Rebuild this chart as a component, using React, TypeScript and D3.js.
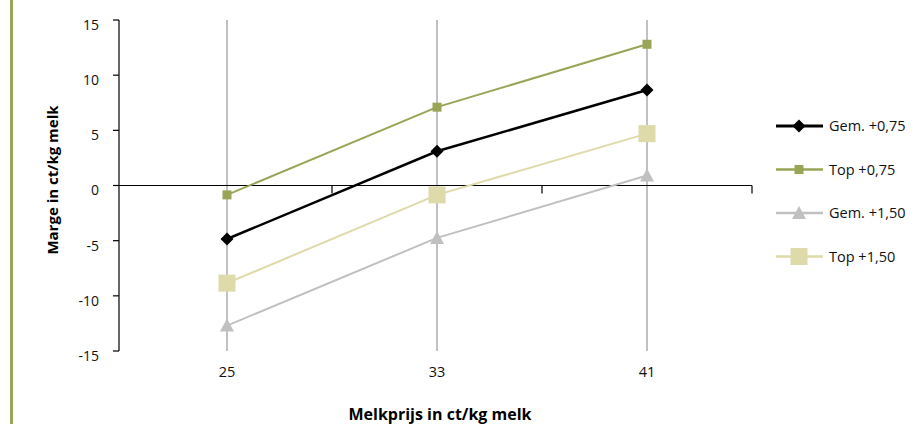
import React from "react";
import * as d3 from "d3";

const categories = ["25", "33", "41"];
const yTicks = [-15, -10, -5, 0, 5, 10, 15];
const gem075 = [-4.85, 3.1, 8.65];
const top075 = [-0.85, 7.1, 12.8];
const gem150 = [-12.7, -4.75, 0.9];
const top150 = [-8.85, -0.85, 4.7];
const seriesNames = ["Gem. +0,75", "Top +0,75", "Gem. +1,50", "Top +1,50"];

const W = 919;
const H = 424;
const FONT = "'Open Sans', 'DejaVu Sans', sans-serif";

type Series = { name: string; values: number[]; color: string; marker: string; width: number };

const series: Series[] = [
  { name: seriesNames[1], values: top075, color: "#99a456", marker: "smallSquare", width: 2 },
  { name: seriesNames[0], values: gem075, color: "#000000", marker: "diamond", width: 2.5 },
  { name: seriesNames[3], values: top150, color: "#dedaaa", marker: "bigSquare", width: 2 },
  { name: seriesNames[2], values: gem150, color: "#c0c0c0", marker: "triangle", width: 2 },
];
const legendOrder = [1, 0, 3, 2];

function Marker({ type, x, y, color }: { type: string; x: number; y: number; color: string }) {
  if (type === "diamond") {
    const s = 6.5;
    return <path d={`M${x},${y - s}L${x + s},${y}L${x},${y + s}L${x - s},${y}Z`} fill={color} />;
  }
  if (type === "smallSquare") {
    return <rect x={x - 4.5} y={y - 4.5} width={9} height={9} fill={color} />;
  }
  if (type === "bigSquare") {
    return <rect x={x - 8.5} y={y - 8.5} width={17} height={17} fill={color} />;
  }
  return <path d={`M${x},${y - 7}L${x + 7},${y + 6}L${x - 7},${y + 6}Z`} fill={color} />;
}

export default function App() {
  const x = d3.scaleBand<string>().domain(categories).range([122, 752]);
  const y = d3.scaleLinear().domain([-15, 15]).range([351, 20]);
  const line = d3
    .line<number>()
    .x((_, i) => (x(categories[i]) as number) + x.bandwidth() / 2)
    .y((d) => y(d));
  const boundaries = [...categories.map((c) => x(c) as number), 752];

  return (
    <svg width={W} height={H} style={{ position: "absolute", left: 0, top: 0 }} fontFamily={FONT}>
      <rect x={10} y={0} width={3} height={H} fill="#9aa55a" />
      {categories.map((c) => {
        const cx = (x(c) as number) + x.bandwidth() / 2;
        return <line key={c} x1={cx} x2={cx} y1={20} y2={351} stroke="#acacac" strokeWidth={1.5} />;
      })}
      <line x1={119} x2={119} y1={20} y2={351} stroke="#000" strokeWidth={1.2} />
      {yTicks.map((t) => (
        <g key={t}>
          <line x1={113} x2={119} y1={y(t)} y2={y(t)} stroke="#000" strokeWidth={1.2} />
          <text x={99} y={y(t) + 5} dy="0.35em" textAnchor="end" fontSize={14} fill="#111">
            {t}
          </text>
        </g>
      ))}
      <line x1={119} x2={752} y1={y(0)} y2={y(0)} stroke="#000" strokeWidth={1.2} />
      {boundaries.slice(1).map((b, i) => (
        <line key={i} x1={b} x2={b} y1={y(0)} y2={y(0) + 8} stroke="#000" strokeWidth={1.2} />
      ))}
      {categories.map((c) => (
        <text
          key={c}
          x={(x(c) as number) + x.bandwidth() / 2}
          y={377}
          textAnchor="middle"
          fontSize={14.5}
          fill="#111"
        >
          {c}
        </text>
      ))}
      {series.map((s) => (
        <g key={s.name}>
          <path d={line(s.values) as string} fill="none" stroke={s.color} strokeWidth={s.width} />
          {s.values.map((v, i) => (
            <Marker
              key={i}
              type={s.marker}
              x={(x(categories[i]) as number) + x.bandwidth() / 2}
              y={y(v)}
              color={s.color}
            />
          ))}
        </g>
      ))}
      <text x={440} y={420} textAnchor="middle" fontSize={16} fontWeight="bold" fill="#000">
        Melkprijs in ct/kg melk
      </text>
      <text
        transform={`translate(58,180) rotate(-90)`}
        textAnchor="middle"
        fontSize={15}
        fontWeight="bold"
        fill="#000"
      >
        Marge in ct/kg melk
      </text>
      {legendOrder.map((si, i) => {
        const s = series[si];
        const ly = 126 + i * 43.5;
        return (
          <g key={s.name}>
            <line x1={776} x2={823} y1={ly} y2={ly} stroke={s.color} strokeWidth={s.width + 0.5} />
            <Marker type={s.marker} x={799} y={ly} color={s.color} />
            <text x={829} y={ly} dy="0.35em" fontSize={14.5} fill="#111">
              {s.name}
            </text>
          </g>
        );
      })}
    </svg>
  );
}
